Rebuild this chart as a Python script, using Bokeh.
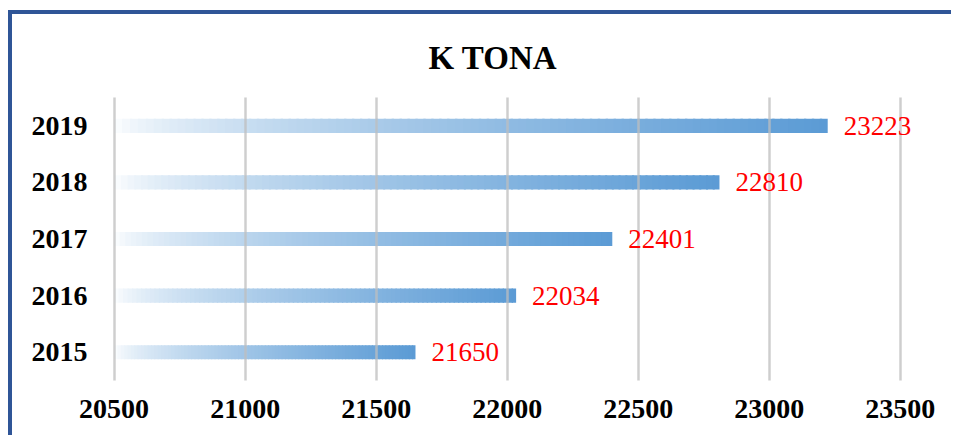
import numpy as np
from bokeh.plotting import figure
from bokeh.models import Range1d, FactorRange, FixedTicker, BasicTickFormatter, ColumnDataSource, LabelSet
from bokeh.embed import file_html
from bokeh.resources import INLINE

title_text = "K TONA"
years = ["2015", "2016", "2017", "2018", "2019"]
values = [21650, 22034, 22401, 22810, 23223]
x_ticks = [20500, 21000, 21500, 22000, 22500, 23000, 23500]
bar_start = 20500
x_start = 20490
x_end = 23600

FONT = "Liberation Serif"

p = figure(width=943, height=425, output_backend="svg", toolbar_location=None,
           y_range=FactorRange(*years, range_padding=0),
           x_range=Range1d(x_start, x_end),
           min_border_left=99, min_border_right=29, min_border_top=83, min_border_bottom=59)
p.styles = {"margin-left": "8px", "margin-top": "10px",
            "border-top": "4px solid #2F5597", "border-left": "4px solid #2F5597"}

# title
p.title.text = title_text
p.title.text_font = FONT
p.title.text_font_size = "33px"
p.title.text_font_style = "bold"
p.title.text_color = "black"
p.title.align = "left"
p.title.offset = 317
p.title.standoff = 44

# gradient bars (drawn as thin slices)
N = 90
blue = np.array([91, 155, 213])
white = np.array([255, 255, 255])
lefts, rights, ys, colors = [], [], [], []
for yr, v in zip(years, values):
    edges = np.linspace(bar_start, v, N + 1)
    for i in range(N):
        f = (i + 0.5) / N
        g = f ** 0.65
        c = white + (blue - white) * g
        lefts.append(edges[i])
        rights.append(edges[i + 1] + (v - bar_start) / N * 0.3 if i < N - 1 else edges[i + 1])
        ys.append(yr)
        colors.append("#%02x%02x%02x" % tuple(int(round(t)) for t in c))
src = ColumnDataSource(dict(left=lefts, right=rights, y=ys, color=colors))
p.hbar(y="y", left="left", right="right", height=0.25, fill_color="color", line_color=None, source=src)

# value labels
lsrc = ColumnDataSource(dict(x=values, y=years, t=[str(v) for v in values]))
labels = LabelSet(x="x", y="y", text="t", source=lsrc, x_offset=16, text_baseline="middle",
                  text_color="red", text_font=FONT, text_font_size="27px")
p.add_layout(labels)

# grid
p.ygrid.grid_line_color = None
p.xgrid.ticker = FixedTicker(ticks=x_ticks)
p.xgrid.grid_line_color = "#BDBDBD"
p.xgrid.grid_line_alpha = 0.75
p.xgrid.grid_line_width = 2.5
p.xgrid.level = "guide"

# axes
p.xaxis.ticker = FixedTicker(ticks=x_ticks)
p.xaxis.formatter = BasicTickFormatter(use_scientific=False)
for ax in (p.xaxis[0], p.yaxis[0]):
    ax.axis_line_color = None
    ax.major_tick_line_color = None
    ax.minor_tick_line_color = None
    ax.major_tick_out = 0
    ax.major_tick_in = 0
    ax.major_label_text_font = FONT
    ax.major_label_text_font_style = "bold"
    ax.major_label_text_font_size = "28px"
    ax.major_label_text_color = "black"
p.xaxis.major_label_standoff = 19
p.yaxis.major_label_standoff = 24

p.outline_line_color = None
p.background_fill_color = "white"
p.border_fill_color = "white"

open("out.html", "w").write(file_html(p, INLINE))
